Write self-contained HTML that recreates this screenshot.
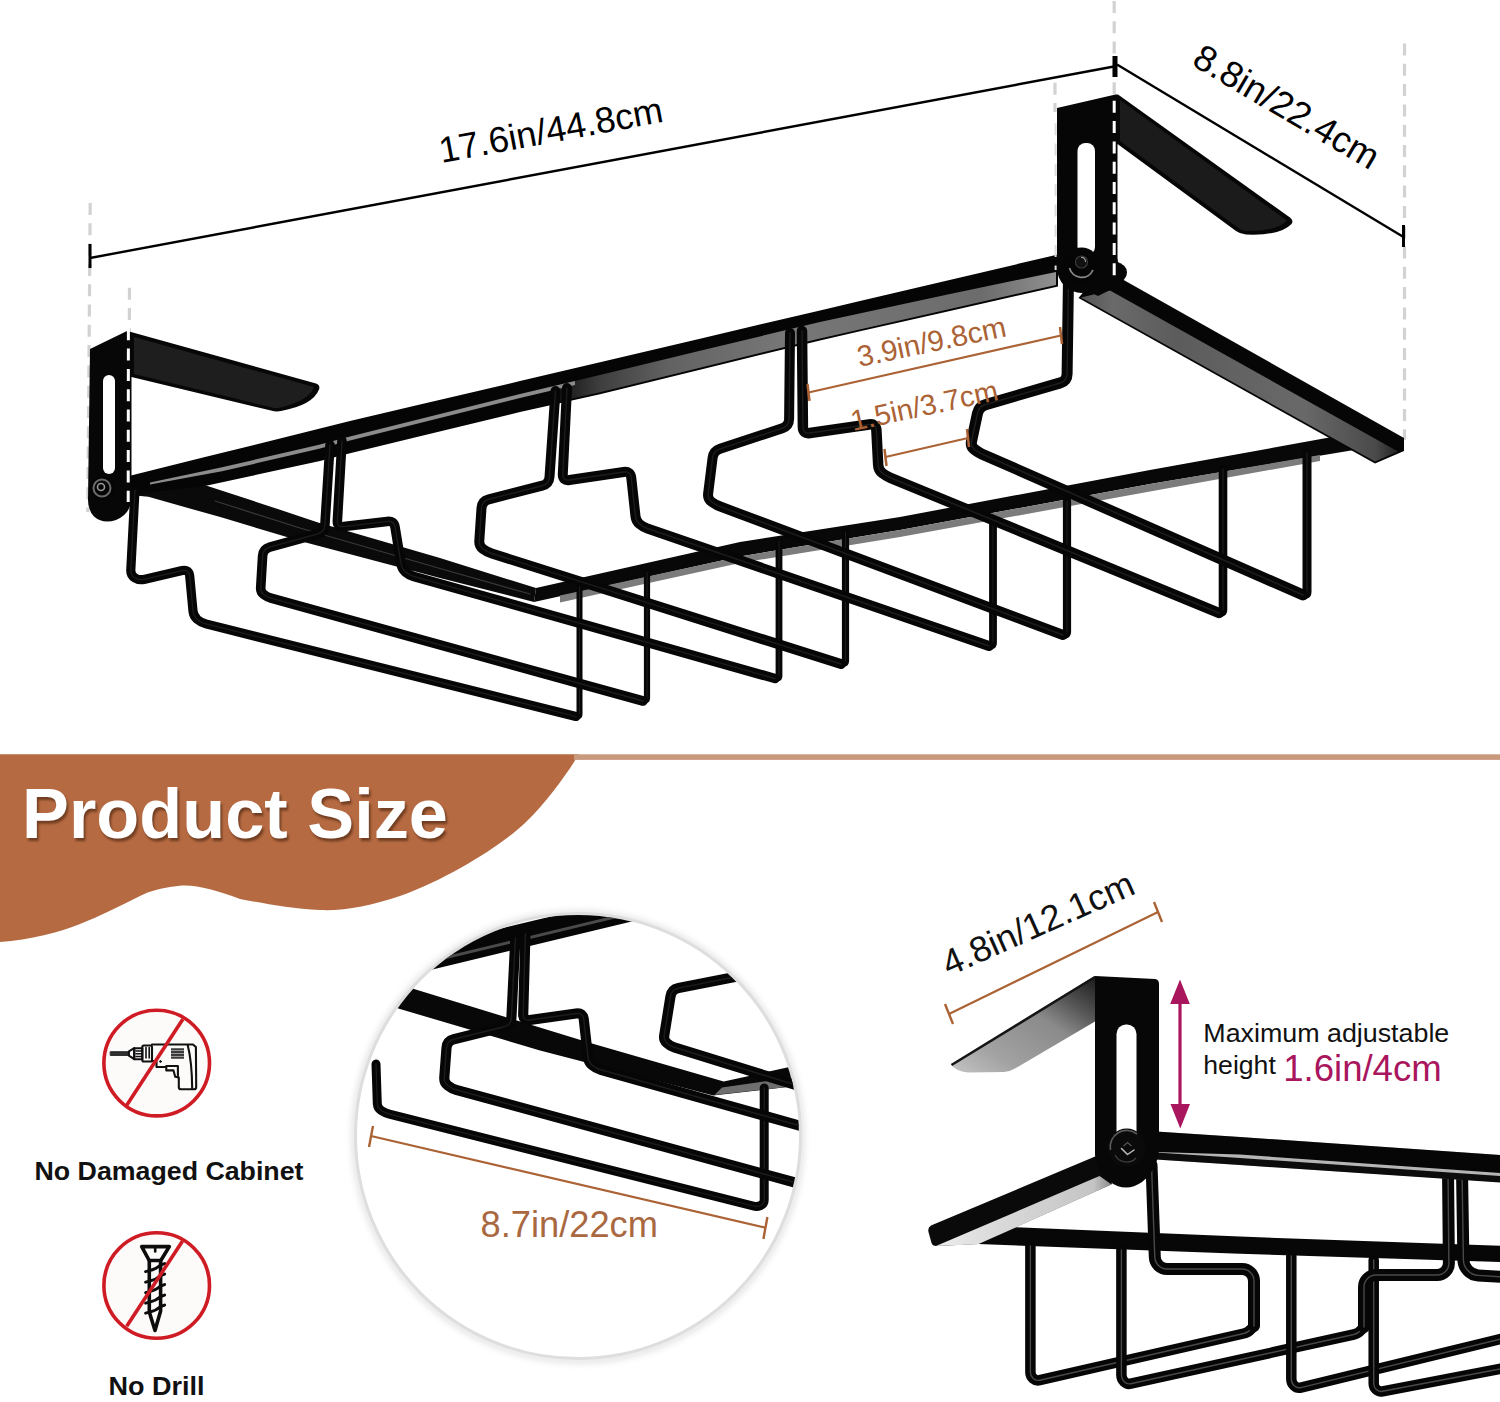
<!DOCTYPE html>
<html><head><meta charset="utf-8"><title>Product Size</title>
<style>
html,body{margin:0;padding:0;background:#fff;}
body{width:1500px;height:1402px;overflow:hidden;font-family:"Liberation Sans",sans-serif;}
svg{display:block;}
text{font-family:"Liberation Sans",sans-serif;}
</style></head><body>
<svg width="1500" height="1402" viewBox="0 0 1500 1402">
<defs>
<linearGradient id="gRail" x1="0" y1="0" x2="1" y2="0">
 <stop offset="0" stop-color="#161616"/><stop offset="0.08" stop-color="#3e3e3e"/><stop offset="0.22" stop-color="#626262"/><stop offset="0.45" stop-color="#777"/><stop offset="0.85" stop-color="#6c6c6c"/><stop offset="1" stop-color="#909090"/>
</linearGradient>
<linearGradient id="gRight" x1="0" y1="0" x2="1" y2="0">
 <stop offset="0" stop-color="#555"/><stop offset="0.1" stop-color="#6a6a6a"/><stop offset="0.3" stop-color="#5c5c5c"/><stop offset="0.7" stop-color="#696969"/><stop offset="0.93" stop-color="#4a4a4a"/><stop offset="1" stop-color="#222"/>
</linearGradient>
<linearGradient id="gFl" x1="1" y1="0" x2="0" y2="1">
 <stop offset="0" stop-color="#1a1a1a"/><stop offset="0.22" stop-color="#555"/><stop offset="0.4" stop-color="#8a8a8a"/><stop offset="0.75" stop-color="#a2a2a2"/><stop offset="1" stop-color="#c4c4c4"/>
</linearGradient>
<linearGradient id="gSide" x1="0" y1="0" x2="1" y2="0">
 <stop offset="0" stop-color="#ededed"/><stop offset="0.3" stop-color="#dcdcdc"/><stop offset="0.6" stop-color="#d0d0d0"/><stop offset="0.9" stop-color="#c4c4c4"/><stop offset="1" stop-color="#8a8a8a"/>
</linearGradient>
<clipPath id="cc"><circle cx="578" cy="1136" r="221"/></clipPath>
<filter id="sh" x="-5%" y="-5%" width="110%" height="110%"><feGaussianBlur stdDeviation="3"/></filter>
<filter id="ts" x="-5%" y="-20%" width="110%" height="150%"><feGaussianBlur stdDeviation="1.2"/></filter>
</defs>
<rect width="1500" height="1402" fill="#fff"/>

<g id="toprack">
<line x1="90.2" y1="203" x2="87.8" y2="512" stroke="#d2d2d2" stroke-width="3.2" stroke-dasharray="12,8.3"/>
<line x1="129.5" y1="287.7" x2="129.3" y2="332" stroke="#d2d2d2" stroke-width="3.2" stroke-dasharray="12,8.3"/>
<line x1="1114.2" y1="1" x2="1114.2" y2="94" stroke="#d2d2d2" stroke-width="3.2" stroke-dasharray="12,8.3"/>
<line x1="1055" y1="82.7" x2="1055" y2="112" stroke="#d2d2d2" stroke-width="3.2" stroke-dasharray="12,8.3"/>
<line x1="1404.5" y1="43.5" x2="1404.5" y2="440" stroke="#d2d2d2" stroke-width="3.2" stroke-dasharray="12,8.3"/>
<polygon points="135.0,480.0 206.0,485.6 270.0,506.4 318.0,522.4 440.0,558.0 536.0,588.0 534.0,602.0 440.0,578.0 302.0,541.6 222.0,517.6 148.4,496.8 130.0,495.0" fill="#0a0a0a" />
<polyline points="215.0,501.0 300.0,528.0 440.0,568.5 530.0,594.0" fill="none" stroke="#3a3a3a" stroke-width="1.2" stroke-linejoin="round" stroke-linecap="round" />
<polygon points="536.0,588.0 740.0,542.0 900.0,517.0 1150.0,470.0 1332.0,437.0 1354.0,450.0 1150.0,484.0 900.0,530.0 740.0,556.5 534.0,602.0" fill="#080808" />
<polygon points="560.0,595.5 740.0,556.5 900.0,530.0 1150.0,484.0 1320.0,455.0 1320.0,461.0 1150.0,491.5 900.0,537.0 740.0,563.0 560.0,602.5" fill="#7c7c7c" />
<polygon points="1090.0,284.0 1121.0,278.5 1404.0,438.0 1404.0,451.0 1375.0,463.5 1078.5,298.0" fill="#060606" />
<polygon points="1110.0,290.5 1398.0,451.5 1375.0,461.5 1081.0,297.5" fill="url(#gRight)" />
<polygon points="129.0,476.0 160.0,468.3 206.0,456.8 250.0,445.9 320.0,428.5 350.0,421.0 420.0,404.6 520.0,381.1 600.0,362.3 700.0,338.7 820.0,310.4 860.0,301.0 940.0,282.2 1058.0,254.5 1058.0,286.5 940.0,313.2 860.0,331.3 820.0,340.4 700.0,369.8 600.0,394.3 520.0,412.1 420.0,436.3 350.0,453.3 320.0,461.0 250.0,476.2 206.0,485.8 160.0,491.3 129.0,495.0" fill="#050505" />
<polygon points="560.0,384.5 600.0,374.9 700.0,350.8 820.0,321.9 950.0,293.9 1056.0,271.9 1056.0,285.0 950.0,309.0 820.0,338.4 700.0,367.8 600.0,392.3 560.0,401.2" fill="url(#gRail)" />
<polygon points="150.0,482.5 222.0,467.3 318.0,445.0 350.0,436.5 420.0,419.0 520.0,394.1 575.0,380.9 575.0,384.9 520.0,398.1 420.0,423.0 350.0,440.5 318.0,449.0 222.0,471.3 150.0,484.5" fill="#8c8c8c" />
<path d="M201.0,622.7 L574.3,716.1 Q576.0,716.5 577.8,716.2 L577.8,716.2 Q579.5,716.0 579.5,714.2 L579.5,583.0" fill="none" stroke="#060606" stroke-width="6" stroke-linejoin="round" stroke-linecap="round" />
<path d="M201.0,622.7 L574.3,716.1 Q576.0,716.5 577.8,716.2 L577.8,716.2 Q579.5,716.0 579.5,714.2 L579.5,583.0" fill="none" stroke="#1d1d1d" stroke-width="1" stroke-linejoin="round" stroke-linecap="round" />
<path d="M267.0,597.0 L641.0,700.5 Q643.0,701.0 645.0,700.5 L645.0,700.5 Q647.0,700.0 647.0,697.9 L647.0,572.0" fill="none" stroke="#060606" stroke-width="6.2" stroke-linejoin="round" stroke-linecap="round" />
<path d="M267.0,597.0 L641.0,700.5 Q643.0,701.0 645.0,700.5 L645.0,700.5 Q647.0,700.0 647.0,697.9 L647.0,572.0" fill="none" stroke="#1d1d1d" stroke-width="1" stroke-linejoin="round" stroke-linecap="round" />
<path d="M409.0,575.0 L773.1,678.0 Q775.0,678.5 777.0,678.2 L777.0,678.2 Q779.0,678.0 779.0,676.0 L779.0,541.0" fill="none" stroke="#060606" stroke-width="6.8" stroke-linejoin="round" stroke-linecap="round" />
<path d="M409.0,575.0 L773.1,678.0 Q775.0,678.5 777.0,678.2 L777.0,678.2 Q779.0,678.0 779.0,676.0 L779.0,541.0" fill="none" stroke="#1d1d1d" stroke-width="1" stroke-linejoin="round" stroke-linecap="round" />
<path d="M487.0,552.0 L838.8,663.3 Q841.0,664.0 843.2,663.5 L843.2,663.5 Q845.5,663.0 845.5,660.7 L845.5,532.0" fill="none" stroke="#060606" stroke-width="7.2" stroke-linejoin="round" stroke-linecap="round" />
<path d="M487.0,552.0 L838.8,663.3 Q841.0,664.0 843.2,663.5 L843.2,663.5 Q845.5,663.0 845.5,660.7 L845.5,532.0" fill="none" stroke="#1d1d1d" stroke-width="1.0080000000000002" stroke-linejoin="round" stroke-linecap="round" />
<path d="M643.0,527.0 L987.1,645.3 Q989.0,646.0 991.0,645.5 L991.0,645.5 Q993.0,645.0 993.0,642.9 L993.0,522.0" fill="none" stroke="#060606" stroke-width="7.8" stroke-linejoin="round" stroke-linecap="round" />
<path d="M643.0,527.0 L987.1,645.3 Q989.0,646.0 991.0,645.5 L991.0,645.5 Q993.0,645.0 993.0,642.9 L993.0,522.0" fill="none" stroke="#1d1d1d" stroke-width="1.092" stroke-linejoin="round" stroke-linecap="round" />
<path d="M716.0,505.0 L1061.1,634.3 Q1063.0,635.0 1065.0,634.5 L1065.0,634.5 Q1067.0,634.0 1067.0,631.9 L1067.0,501.0" fill="none" stroke="#060606" stroke-width="8.2" stroke-linejoin="round" stroke-linecap="round" />
<path d="M716.0,505.0 L1061.1,634.3 Q1063.0,635.0 1065.0,634.5 L1065.0,634.5 Q1067.0,634.0 1067.0,631.9 L1067.0,501.0" fill="none" stroke="#1d1d1d" stroke-width="1.148" stroke-linejoin="round" stroke-linecap="round" />
<path d="M886.0,476.0 L1217.1,612.2 Q1219.0,613.0 1221.0,612.5 L1221.0,612.5 Q1223.0,612.0 1223.0,609.9 L1223.0,469.0" fill="none" stroke="#060606" stroke-width="8.6" stroke-linejoin="round" stroke-linecap="round" />
<path d="M886.0,476.0 L1217.1,612.2 Q1219.0,613.0 1221.0,612.5 L1221.0,612.5 Q1223.0,612.0 1223.0,609.9 L1223.0,469.0" fill="none" stroke="#1d1d1d" stroke-width="1.204" stroke-linejoin="round" stroke-linecap="round" />
<path d="M977.5,452.0 L1301.1,594.2 Q1303.0,595.0 1305.0,594.5 L1305.0,594.5 Q1307.0,594.0 1307.0,591.9 L1307.0,453.0" fill="none" stroke="#060606" stroke-width="9" stroke-linejoin="round" stroke-linecap="round" />
<path d="M977.5,452.0 L1301.1,594.2 Q1303.0,595.0 1305.0,594.5 L1305.0,594.5 Q1307.0,594.0 1307.0,591.9 L1307.0,453.0" fill="none" stroke="#1d1d1d" stroke-width="1.2600000000000002" stroke-linejoin="round" stroke-linecap="round" />
<path d="M135.0,490.0 L130.8,569.9 Q130.5,575.0 134.8,577.8 L134.8,577.8 Q139.0,580.5 143.9,579.4 L182.2,570.6 Q189.0,569.0 189.7,576.0 L193.0,611.0 Q193.5,616.0 197.2,619.4 L197.2,619.4 Q201.0,622.7 205.9,623.9 L576.0,716.5" fill="none" stroke="#060606" stroke-width="9.2" stroke-linejoin="round" stroke-linecap="round" />
<path d="M135.0,490.0 L130.8,569.9 Q130.5,575.0 134.8,577.8 L134.8,577.8 Q139.0,580.5 143.9,579.4 L182.2,570.6 Q189.0,569.0 189.7,576.0 L193.0,611.0 Q193.5,616.0 197.2,619.4 L197.2,619.4 Q201.0,622.7 205.9,623.9 L576.0,716.5" fill="none" stroke="#1d1d1d" stroke-width="1.288" stroke-linejoin="round" stroke-linecap="round" />
<path d="M330.0,445.0 L324.9,525.0 Q324.5,532.0 317.8,533.9 L269.7,547.1 Q263.0,549.0 262.6,556.0 L260.7,587.9 Q260.5,592.0 263.8,594.5 L263.8,594.5 Q267.0,597.0 271.0,598.1 L643.0,701.0" fill="none" stroke="#060606" stroke-width="9.6" stroke-linejoin="round" stroke-linecap="round" />
<path d="M330.0,445.0 L324.9,525.0 Q324.5,532.0 317.8,533.9 L269.7,547.1 Q263.0,549.0 262.6,556.0 L260.7,587.9 Q260.5,592.0 263.8,594.5 L263.8,594.5 Q267.0,597.0 271.0,598.1 L643.0,701.0" fill="none" stroke="#1d1d1d" stroke-width="1.344" stroke-linejoin="round" stroke-linecap="round" />
<path d="M342.0,441.0 L337.4,520.5 Q337.0,527.5 343.9,526.6 L387.1,521.4 Q394.0,520.5 395.1,527.4 L401.2,564.5 Q402.0,569.0 405.5,572.0 L405.5,572.0 Q409.0,575.0 413.4,576.3 L775.0,678.5" fill="none" stroke="#060606" stroke-width="9.6" stroke-linejoin="round" stroke-linecap="round" />
<path d="M342.0,441.0 L337.4,520.5 Q337.0,527.5 343.9,526.6 L387.1,521.4 Q394.0,520.5 395.1,527.4 L401.2,564.5 Q402.0,569.0 405.5,572.0 L405.5,572.0 Q409.0,575.0 413.4,576.3 L775.0,678.5" fill="none" stroke="#1d1d1d" stroke-width="1.344" stroke-linejoin="round" stroke-linecap="round" />
<path d="M555.5,391.0 L549.5,477.0 Q549.0,484.0 542.2,485.7 L488.8,499.3 Q482.0,501.0 481.5,508.0 L479.3,541.0 Q479.0,546.0 483.0,549.0 L483.0,549.0 Q487.0,552.0 491.8,553.5 L841.0,664.0" fill="none" stroke="#060606" stroke-width="10" stroke-linejoin="round" stroke-linecap="round" />
<path d="M555.5,391.0 L549.5,477.0 Q549.0,484.0 542.2,485.7 L488.8,499.3 Q482.0,501.0 481.5,508.0 L479.3,541.0 Q479.0,546.0 483.0,549.0 L483.0,549.0 Q487.0,552.0 491.8,553.5 L841.0,664.0" fill="none" stroke="#1d1d1d" stroke-width="1.4000000000000001" stroke-linejoin="round" stroke-linecap="round" />
<path d="M567.0,388.0 L562.8,474.0 Q562.5,481.0 569.4,480.0 L623.6,472.0 Q630.5,471.0 631.3,478.0 L635.5,516.4 Q636.0,521.0 639.5,524.0 L639.5,524.0 Q643.0,527.0 647.4,528.5 L989.0,646.0" fill="none" stroke="#060606" stroke-width="10" stroke-linejoin="round" stroke-linecap="round" />
<path d="M567.0,388.0 L562.8,474.0 Q562.5,481.0 569.4,480.0 L623.6,472.0 Q630.5,471.0 631.3,478.0 L635.5,516.4 Q636.0,521.0 639.5,524.0 L639.5,524.0 Q643.0,527.0 647.4,528.5 L989.0,646.0" fill="none" stroke="#1d1d1d" stroke-width="1.4000000000000001" stroke-linejoin="round" stroke-linecap="round" />
<path d="M790.0,333.0 L789.1,419.0 Q789.0,426.0 782.4,428.2 L720.1,448.8 Q713.5,451.0 712.6,457.9 L708.1,493.8 Q707.5,499.0 711.8,502.0 L711.8,502.0 Q716.0,505.0 720.9,506.8 L1063.0,635.0" fill="none" stroke="#060606" stroke-width="10" stroke-linejoin="round" stroke-linecap="round" />
<path d="M790.0,333.0 L789.1,419.0 Q789.0,426.0 782.4,428.2 L720.1,448.8 Q713.5,451.0 712.6,457.9 L708.1,493.8 Q707.5,499.0 711.8,502.0 L711.8,502.0 Q716.0,505.0 720.9,506.8 L1063.0,635.0" fill="none" stroke="#1d1d1d" stroke-width="1.4000000000000001" stroke-linejoin="round" stroke-linecap="round" />
<path d="M802.0,331.0 L802.9,427.0 Q803.0,434.0 809.9,433.0 L869.1,424.5 Q876.0,423.5 876.4,430.5 L878.2,465.2 Q878.5,470.0 882.2,473.0 L882.2,473.0 Q886.0,476.0 890.4,477.8 L1219.0,613.0" fill="none" stroke="#060606" stroke-width="10.5" stroke-linejoin="round" stroke-linecap="round" />
<path d="M802.0,331.0 L802.9,427.0 Q803.0,434.0 809.9,433.0 L869.1,424.5 Q876.0,423.5 876.4,430.5 L878.2,465.2 Q878.5,470.0 882.2,473.0 L882.2,473.0 Q886.0,476.0 890.4,477.8 L1219.0,613.0" fill="none" stroke="#1d1d1d" stroke-width="1.4700000000000002" stroke-linejoin="round" stroke-linecap="round" />
<path d="M1068.5,278.0 L1067.1,374.0 Q1067.0,381.0 1060.3,382.9 L985.7,404.6 Q979.0,406.5 977.5,413.3 L971.5,441.5 Q970.5,446.0 974.0,449.0 L974.0,449.0 Q977.5,452.0 981.7,453.9 L1303.0,595.0" fill="none" stroke="#060606" stroke-width="11" stroke-linejoin="round" stroke-linecap="round" />
<path d="M1068.5,278.0 L1067.1,374.0 Q1067.0,381.0 1060.3,382.9 L985.7,404.6 Q979.0,406.5 977.5,413.3 L971.5,441.5 Q970.5,446.0 974.0,449.0 L974.0,449.0 Q977.5,452.0 981.7,453.9 L1303.0,595.0" fill="none" stroke="#1d1d1d" stroke-width="1.54" stroke-linejoin="round" stroke-linecap="round" />
<path d="M90,349 L127,331 L131,332 L316,383.5 Q320.5,385 319,389.5 Q313,405 281,411 Q276,412 271,410.5 L131.5,377 L131.5,500 Q130,514 116,520 Q103,524.5 94,516.5 Q88,510 88,500 Z" fill="#070707"/>
<path d="M134,337 L314,387 Q310,400 281,407.5 Q276,408.5 272,407.5 L134,374 Z" fill="#1e1e1e"/>
<rect x="103" y="375" width="12" height="99" rx="6" fill="#fff"/>
<circle cx="102" cy="488" r="11.5" fill="#050505"/><circle cx="102" cy="488" r="8.5" fill="none" stroke="#6a6a6a" stroke-width="2"/><circle cx="101" cy="487" r="3.5" fill="none" stroke="#999" stroke-width="1.6"/>
<line x1="128.4" y1="328.3" x2="128.2" y2="502" stroke="#fff" stroke-width="3" stroke-dasharray="12,8.3"/>
<path d="M1057,108 L1115.5,94.5 L1118,94.5 L1290,217.5 Q1294,220.5 1291.5,224 Q1280,236 1246,234.5 Q1240,234 1236,231 L1117.5,144 L1117.5,262 L1122,264 L1057,262 Z" fill="#060606"/>
<circle cx="1082" cy="268" r="25" fill="#060606"/>
<circle cx="1117.5" cy="272.5" r="9.5" fill="#060606"/>
<polygon points="1064.0,279.0 1098.0,296.0 1124.0,283.0 1117.0,258.0 1090.0,258.0" fill="#060606" />
<path d="M1120,100 L1287,220.5 Q1278,231 1247,231 Q1242,230.5 1239,228.5 L1120,141 Z" fill="#1b1b1b"/>
<rect x="1077.5" y="143" width="17.5" height="112" rx="8" fill="#fff"/>
<circle cx="1081.5" cy="265" r="17.5" fill="#050505"/><path d="M1069.5,268 A12.5,12.5 0 0 0 1093,270" fill="none" stroke="#8a8a8a" stroke-width="1.8"/><circle cx="1081.5" cy="262" r="6" fill="#111" stroke="#3a3a3a" stroke-width="1.2"/><path d="M1081,257.5 A4,4 0 0 1 1085.5,262" fill="none" stroke="#999" stroke-width="1.2"/>
<line x1="1114.2" y1="100.8" x2="1114.2" y2="276" stroke="#fff" stroke-width="3" stroke-dasharray="12,8.3"/>
<line x1="1055.6" y1="123.3" x2="1055.6" y2="270" stroke="#ddd" stroke-width="2" stroke-dasharray="12,8.3"/>
<line x1="90" y1="258" x2="1114" y2="66.5" stroke="#000" stroke-width="2.4"/>
<line x1="90" y1="244" x2="90" y2="268" stroke="#000" stroke-width="3"/>
<line x1="1115" y1="56" x2="1115" y2="77" stroke="#000" stroke-width="5"/>
<line x1="1117" y1="64.5" x2="1403.5" y2="237" stroke="#000" stroke-width="2.4"/>
<line x1="1403.5" y1="225" x2="1403.5" y2="247" stroke="#000" stroke-width="3"/>
<text transform="translate(441.5,163) rotate(-10.5)" font-size="36.2" textLength="227" lengthAdjust="spacingAndGlyphs" fill="#000">17.6in/44.8cm</text>
<text transform="translate(1190.5,64.6) rotate(30.5)" font-size="36.4" fill="#000">8.8in/22.4cm</text>
<line x1="808.5" y1="392.5" x2="1061" y2="335.5" stroke="#ab6234" stroke-width="2.2"/>
<line x1="807.5" y1="384" x2="809.5" y2="401" stroke="#ab6234" stroke-width="2.5"/><line x1="1060" y1="327" x2="1062" y2="344" stroke="#ab6234" stroke-width="2.5"/>
<line x1="885.5" y1="457" x2="968" y2="438" stroke="#ab6234" stroke-width="2.2"/>
<line x1="884.5" y1="449" x2="886.5" y2="466" stroke="#ab6234" stroke-width="2.5"/><line x1="967" y1="429" x2="969" y2="447" stroke="#ab6234" stroke-width="2.5"/>
<text transform="translate(859.5,367) rotate(-11.8)" font-size="29.3" fill="#ab6234">3.9in/9.8cm</text>
<text transform="translate(853,431) rotate(-12)" font-size="29" fill="#ab6234">1.5in/3.7cm</text>
</g>
<path d="M0,754.3 L579,754.3 C569,770 551,798 525,823 C503,844 450,878 400,896 C370,906 345,911 320,910 C290,909 262,903 240,899 C215,890 195,884 178,886 C160,888 150,891 140,896 C120,906 100,916 80,924 C60,932 30,940 0,942 Z" fill="#b56a42"/>
<rect x="574" y="754.3" width="926" height="5.6" fill="#c9997d"/>
<text x="23.8" y="840.8" font-size="71" font-weight="bold" textLength="426" lengthAdjust="spacingAndGlyphs" fill="#5a2e16" opacity="0.75" filter="url(#ts)">Product Size</text>
<text x="22" y="837.5" font-size="71" font-weight="bold" textLength="426" lengthAdjust="spacingAndGlyphs" fill="#fff">Product Size</text>
<circle cx="156.7" cy="1063.1" r="52.8" fill="#fdfafa" stroke="#cf1b23" stroke-width="3.6"/>
<g fill="none" stroke="#111" stroke-width="2.1" stroke-linejoin="round" stroke-linecap="round">
<rect x="110.6" y="1051.8" width="18.3" height="3.5" fill="#333" stroke-width="1"/>
<path d="M128.9,1051.3 L134.2,1048.2 V1059.2 L128.9,1055.7 Z"/>
<rect x="134.2" y="1048.2" width="8.1" height="11" />
<path d="M136,1051 H142 M136,1053.8 H142 M136,1056.6 H142" stroke-width="1.5"/>
<rect x="142.3" y="1045.5" width="9.7" height="16" rx="1.5"/>
<path d="M146,1047.5 V1058 M149.2,1047.5 V1058" stroke-width="1.6"/>
<path d="M152,1044.5 H193 L195.9,1047 L196.2,1087 Q196.2,1089.3 194,1089.3 H181 Q178.8,1089.3 178.8,1087 V1077.6 L175.2,1076.7 L173.5,1070.4 H166.3 V1067 H156.5 V1061 H152"/>
<path d="M166.3,1066 H177.9 V1077.3"/>
<path d="M187.7,1045 Q192,1062 192.2,1089"/>
<path d="M171,1049.3 H184 M171,1052.1 H184 M171,1054.9 H184 M171,1057.7 H184" stroke="#3a3a3a" stroke-width="2.2" stroke-linecap="butt"/>
<circle cx="160.5" cy="1061.5" r="0.9" fill="#111" stroke-width="1"/>
</g>
<line x1="182.8" y1="1019.2" x2="126.7" y2="1105.2" stroke="#cf1b23" stroke-width="3.6"/>
<text x="34.5" y="1180" font-size="25.5" font-weight="bold" textLength="269" lengthAdjust="spacingAndGlyphs" fill="#111">No Damaged Cabinet</text>
<circle cx="156.7" cy="1285.5" r="52.8" fill="#fdfafa" stroke="#cf1b23" stroke-width="3.6"/>
<g fill="none" stroke="#0c0c0c" stroke-width="3.6" stroke-linejoin="round" stroke-linecap="round">
<path d="M141.7,1246.6 H169.3 L160.8,1260.5 H149.2 Z"/>
<path d="M155.2,1248.5 V1251.5" stroke-width="2.6"/>
<path d="M149.3,1260.5 V1312 L155,1330.5 L160.6,1311 V1260.5"/>
<path d="M145.6,1271.6 L149.5,1270.6 Q156,1269.2 160.6,1265 L164.6,1263.6" stroke-width="3"/>
<path d="M145.6,1282.1 L149.5,1281.1 Q156,1279.7 160.6,1275.5 L164.6,1274.1" stroke-width="3"/>
<path d="M145.6,1292.6 L149.5,1291.6 Q156,1290.2 160.6,1286 L164.6,1284.6" stroke-width="3"/>
<path d="M145.6,1303.1 L149.5,1302.1 Q156,1300.7 160.6,1296.5 L164.6,1295.1" stroke-width="3"/>
<path d="M145.6,1313.1 L149.5,1312.1 Q156,1310.7 160.6,1306.5 L164.6,1305.1" stroke-width="3"/>
</g>
<line x1="182.4" y1="1241.2" x2="126.7" y2="1326.3" stroke="#cf1b23" stroke-width="3.6"/>
<text x="108.5" y="1395.3" font-size="25.5" font-weight="bold" textLength="96" lengthAdjust="spacingAndGlyphs" fill="#111">No Drill</text>
<circle cx="578" cy="1137" r="224" fill="none" stroke="#aaa" stroke-width="4" opacity="0.45" filter="url(#sh)"/>
<circle cx="578" cy="1136" r="222.5" fill="#fff" stroke="#dedede" stroke-width="3"/>
<g clip-path="url(#cc)">
<polygon points="400.0,985.0 414.0,989.0 592.0,1043.5 723.7,1081.6 794.0,1066.0 796.0,1086.0 713.3,1095.5 540.0,1050.4 400.0,1009.0 380.0,1003.0" fill="#080808" />
<polygon points="722.0,1087.5 796.0,1077.0 796.0,1086.0 714.5,1095.0" fill="#6e6e6e" />
<polygon points="420.0,972.4 640.0,919.6 640.0,895.0 420.0,948.0" fill="#060606" />
<polygon points="440.0,957.5 640.0,909.5 640.0,912.5 440.0,960.5" fill="#4a4a4a" />
<path d="M376.0,1064.0 L377.3,1103.5 Q377.5,1108.0 381.2,1110.5 L381.2,1110.5 Q385.0,1113.0 389.4,1114.1 L753.2,1206.0 Q757.0,1207.0 760.6,1205.5 L760.6,1205.5 Q764.2,1204.0 764.2,1200.1 L764.2,1088.0" fill="none" stroke="#060606" stroke-width="9" stroke-linejoin="round" stroke-linecap="round" />
<path d="M376.0,1064.0 L377.3,1103.5 Q377.5,1108.0 381.2,1110.5 L381.2,1110.5 Q385.0,1113.0 389.4,1114.1 L753.2,1206.0 Q757.0,1207.0 760.6,1205.5 L760.6,1205.5 Q764.2,1204.0 764.2,1200.1 L764.2,1088.0" fill="none" stroke="#1d1d1d" stroke-width="1.2600000000000002" stroke-linejoin="round" stroke-linecap="round" />
<path d="M515.4,938.0 L511.4,1018.0 Q511.0,1025.0 504.2,1026.7 L453.8,1039.3 Q447.0,1041.0 446.5,1048.0 L444.3,1077.7 Q444.0,1082.5 447.8,1085.5 L447.8,1085.5 Q451.5,1088.5 456.1,1089.8 L815.0,1188.0" fill="none" stroke="#060606" stroke-width="10.2" stroke-linejoin="round" stroke-linecap="round" />
<path d="M515.4,938.0 L511.4,1018.0 Q511.0,1025.0 504.2,1026.7 L453.8,1039.3 Q447.0,1041.0 446.5,1048.0 L444.3,1077.7 Q444.0,1082.5 447.8,1085.5 L447.8,1085.5 Q451.5,1088.5 456.1,1089.8 L815.0,1188.0" fill="none" stroke="#1d1d1d" stroke-width="1.428" stroke-linejoin="round" stroke-linecap="round" />
<path d="M525.4,934.0 L523.2,1014.0 Q523.0,1021.0 529.9,1020.0 L576.1,1013.5 Q583.0,1012.5 583.8,1019.5 L588.0,1057.1 Q588.5,1062.0 592.2,1065.2 L592.2,1065.2 Q596.0,1068.5 600.8,1069.8 L815.0,1130.0" fill="none" stroke="#060606" stroke-width="10.2" stroke-linejoin="round" stroke-linecap="round" />
<path d="M525.4,934.0 L523.2,1014.0 Q523.0,1021.0 529.9,1020.0 L576.1,1013.5 Q583.0,1012.5 583.8,1019.5 L588.0,1057.1 Q588.5,1062.0 592.2,1065.2 L592.2,1065.2 Q596.0,1068.5 600.8,1069.8 L815.0,1130.0" fill="none" stroke="#1d1d1d" stroke-width="1.428" stroke-linejoin="round" stroke-linecap="round" />
<path d="M750.0,974.0 L678.5,988.1 Q671.6,989.5 670.5,996.4 L664.2,1035.6 Q663.5,1040.0 666.8,1043.0 L666.8,1043.0 Q670.0,1046.0 674.2,1047.3 L815.0,1091.0" fill="none" stroke="#060606" stroke-width="10.2" stroke-linejoin="round" stroke-linecap="round" />
<path d="M750.0,974.0 L678.5,988.1 Q671.6,989.5 670.5,996.4 L664.2,1035.6 Q663.5,1040.0 666.8,1043.0 L666.8,1043.0 Q670.0,1046.0 674.2,1047.3 L815.0,1091.0" fill="none" stroke="#1d1d1d" stroke-width="1.428" stroke-linejoin="round" stroke-linecap="round" />
</g>
<line x1="371" y1="1136" x2="765.4" y2="1227.6" stroke="#ab6234" stroke-width="2.2"/>
<line x1="373" y1="1126" x2="369" y2="1147" stroke="#ab6234" stroke-width="2.4"/><line x1="767.4" y1="1217" x2="763.4" y2="1239" stroke="#ab6234" stroke-width="2.4"/>
<text x="480.5" y="1236.5" font-size="36" textLength="177.5" lengthAdjust="spacingAndGlyphs" fill="#a9683f">8.7in/22cm</text>
<g id="br">
<polygon points="1012.0,1227.0 1240.0,1236.6 1500.0,1245.7 1500.0,1262.0 1240.0,1253.7 978.0,1244.0" fill="#070707" />
<path d="M1030.4,1246.0 L1030.4,1372.2 Q1030.4,1376.0 1033.2,1378.5 L1033.2,1378.5 Q1036.0,1381.0 1039.7,1380.2 L1243.7,1333.5 Q1248.0,1332.5 1251.0,1329.2 L1254.0,1326.0" fill="none" stroke="#060606" stroke-width="10.5" stroke-linejoin="round" stroke-linecap="round" />
<path d="M1030.4,1246.0 L1030.4,1372.2 Q1030.4,1376.0 1033.2,1378.5 L1033.2,1378.5 Q1036.0,1381.0 1039.7,1380.2 L1243.7,1333.5 Q1248.0,1332.5 1251.0,1329.2 L1254.0,1326.0" fill="none" stroke="#5a5a5a" stroke-width="1.4" stroke-linejoin="round" stroke-linecap="round" opacity="0.8"/>
<path d="M1121.4,1250.0 L1121.4,1375.1 Q1121.4,1379.0 1124.2,1381.8 L1124.2,1381.8 Q1127.0,1384.5 1130.8,1383.7 L1353.7,1334.5 Q1358.0,1333.5 1361.0,1330.2 L1364.0,1327.0" fill="none" stroke="#060606" stroke-width="10.5" stroke-linejoin="round" stroke-linecap="round" />
<path d="M1121.4,1250.0 L1121.4,1375.1 Q1121.4,1379.0 1124.2,1381.8 L1124.2,1381.8 Q1127.0,1384.5 1130.8,1383.7 L1353.7,1334.5 Q1358.0,1333.5 1361.0,1330.2 L1364.0,1327.0" fill="none" stroke="#5a5a5a" stroke-width="1.4" stroke-linejoin="round" stroke-linecap="round" opacity="0.8"/>
<path d="M1291.3,1256.0 L1291.3,1379.0 Q1291.3,1383.0 1294.2,1385.8 L1294.2,1385.8 Q1297.0,1388.5 1300.8,1387.6 L1505.0,1338.0" fill="none" stroke="#060606" stroke-width="10.5" stroke-linejoin="round" stroke-linecap="round" />
<path d="M1291.3,1256.0 L1291.3,1379.0 Q1291.3,1383.0 1294.2,1385.8 L1294.2,1385.8 Q1297.0,1388.5 1300.8,1387.6 L1505.0,1338.0" fill="none" stroke="#5a5a5a" stroke-width="1.4" stroke-linejoin="round" stroke-linecap="round" opacity="0.8"/>
<path d="M1373.7,1260.0 L1373.7,1383.4 Q1373.7,1387.0 1376.3,1389.5 L1376.3,1389.5 Q1379.0,1392.0 1382.6,1391.3 L1505.0,1368.0" fill="none" stroke="#060606" stroke-width="10.5" stroke-linejoin="round" stroke-linecap="round" />
<path d="M1373.7,1260.0 L1373.7,1383.4 Q1373.7,1387.0 1376.3,1389.5 L1376.3,1389.5 Q1379.0,1392.0 1382.6,1391.3 L1505.0,1368.0" fill="none" stroke="#5a5a5a" stroke-width="1.4" stroke-linejoin="round" stroke-linecap="round" opacity="0.8"/>
<path d="M1151.5,1165.0 L1154.8,1257.1 Q1155.0,1262.0 1158.5,1265.5 L1158.5,1265.5 Q1162.0,1269.0 1166.9,1269.0 L1242.1,1269.0 Q1247.0,1269.0 1250.5,1272.5 L1250.5,1272.5 Q1254.0,1276.0 1254.0,1280.9 L1254.0,1326.0" fill="none" stroke="#060606" stroke-width="12" stroke-linejoin="round" stroke-linecap="round" />
<path d="M1151.5,1165.0 L1154.8,1257.1 Q1155.0,1262.0 1158.5,1265.5 L1158.5,1265.5 Q1162.0,1269.0 1166.9,1269.0 L1242.1,1269.0 Q1247.0,1269.0 1250.5,1272.5 L1250.5,1272.5 Q1254.0,1276.0 1254.0,1280.9 L1254.0,1326.0" fill="none" stroke="#5a5a5a" stroke-width="1.4" stroke-linejoin="round" stroke-linecap="round" opacity="0.8"/>
<path d="M1448.0,1170.0 L1448.9,1263.1 Q1449.0,1268.0 1445.5,1271.5 L1445.5,1271.5 Q1442.0,1275.0 1437.1,1275.0 L1375.9,1275.0 Q1371.0,1275.0 1367.5,1278.5 L1367.5,1278.5 Q1364.0,1282.0 1364.0,1286.9 L1364.0,1327.0" fill="none" stroke="#060606" stroke-width="12" stroke-linejoin="round" stroke-linecap="round" />
<path d="M1448.0,1170.0 L1448.9,1263.1 Q1449.0,1268.0 1445.5,1271.5 L1445.5,1271.5 Q1442.0,1275.0 1437.1,1275.0 L1375.9,1275.0 Q1371.0,1275.0 1367.5,1278.5 L1367.5,1278.5 Q1364.0,1282.0 1364.0,1286.9 L1364.0,1327.0" fill="none" stroke="#5a5a5a" stroke-width="1.4" stroke-linejoin="round" stroke-linecap="round" opacity="0.8"/>
<path d="M1462.0,1170.0 L1463.4,1259.8 Q1463.5,1266.0 1467.8,1270.5 L1467.8,1270.5 Q1472.0,1275.0 1478.2,1275.4 L1505.0,1277.0" fill="none" stroke="#060606" stroke-width="12" stroke-linejoin="round" stroke-linecap="round" />
<path d="M1462.0,1170.0 L1463.4,1259.8 Q1463.5,1266.0 1467.8,1270.5 L1467.8,1270.5 Q1472.0,1275.0 1478.2,1275.4 L1505.0,1277.0" fill="none" stroke="#5a5a5a" stroke-width="1.4" stroke-linejoin="round" stroke-linecap="round" opacity="0.8"/>
<path d="M1101,1154 L931,1225.5 Q927.5,1227.5 928.5,1232 L931.5,1243 Q932.5,1246 936,1246 L978,1244 L1112,1184 Z" fill="#0a0a0a"/>
<polygon points="1099.5,1176.0 936.0,1246.0 978.0,1244.3 1111.5,1184.5" fill="url(#gSide)" />
<polygon points="1156.0,1131.5 1240.0,1137.0 1500.0,1155.0 1500.0,1182.0 1240.0,1165.0 1156.0,1159.5" fill="#b5b5b5" />
<polygon points="1156.0,1131.5 1240.0,1137.0 1500.0,1155.0 1500.0,1173.0 1240.0,1154.5 1156.0,1152.0" fill="#060606" />
<polygon points="1156.0,1152.5 1240.0,1158.0 1500.0,1176.0 1500.0,1182.5 1240.0,1165.0 1156.0,1159.5" fill="#0c0c0c" />
<path d="M1095,976 L1155,979 Q1159,979.5 1159,984 L1159,1150 Q1157,1170 1142,1182 Q1126,1193 1110,1182 Q1097,1172 1095,1155 Z" fill="#070707"/>
<path d="M1095,976 L951,1064.5 Q955,1071 968,1072.5 L1004,1072 Q1010,1071.5 1015,1068.5 L1095,1021.5 Z" fill="url(#gFl)"/>
<polyline points="1095,977 951.5,1065" stroke="#151515" stroke-width="2.6" fill="none"/>
<rect x="1116.5" y="1024.5" width="20" height="123" rx="9.5" fill="#fff"/>
<circle cx="1126.7" cy="1147.6" r="19" fill="#0a0a0a"/><path d="M1110.5,1150 A16.5,16.5 0 0 1 1137,1134" fill="none" stroke="#5a5a5a" stroke-width="1.6"/><path d="M1115,1155 A13,13 0 0 0 1136,1158" fill="none" stroke="#3c3c3c" stroke-width="1.4"/><path d="M1121.5,1148.5 L1127.5,1154.5 L1134,1150" fill="none" stroke="#bdbdbd" stroke-width="1.5" stroke-linecap="round" stroke-linejoin="round"/><path d="M1123.5,1146 L1127.5,1142.5 L1131.5,1146" fill="none" stroke="#555" stroke-width="1.1"/>
<line x1="949" y1="1014" x2="1158" y2="912" stroke="#ab6234" stroke-width="2.2"/>
<line x1="945" y1="1004" x2="953" y2="1024" stroke="#ab6234" stroke-width="2.4"/><line x1="1154" y1="902" x2="1162" y2="922" stroke="#ab6234" stroke-width="2.4"/>
<text transform="translate(948.7,976.5) rotate(-23.9)" font-size="36" fill="#111">4.8in/12.1cm</text>
<line x1="1180" y1="1000" x2="1180" y2="1106" stroke="#a9165d" stroke-width="3.2"/>
<polygon points="1180,979.5 1189.8,1004 1170.2,1004" fill="#a9165d"/><polygon points="1180.3,1128.4 1190,1104 1170.5,1104" fill="#a9165d"/>
<text x="1203.3" y="1042.3" font-size="25.2" textLength="246" lengthAdjust="spacingAndGlyphs" fill="#111">Maximum adjustable</text>
<text x="1203.3" y="1074" font-size="25.2" textLength="72.5" lengthAdjust="spacingAndGlyphs" fill="#111">height</text>
<text x="1283.2" y="1080.8" font-size="36.2" textLength="158.5" lengthAdjust="spacingAndGlyphs" fill="#a9165d">1.6in/4cm</text>
</g>
</svg></body></html>
